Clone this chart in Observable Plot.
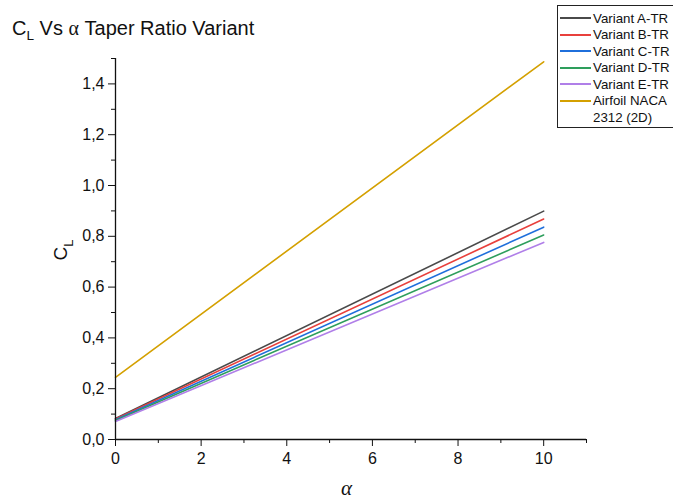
<!DOCTYPE html>
<html>
<head>
<meta charset="utf-8">
<script src="https://cdn.jsdelivr.net/npm/d3@7"></script>
<script src="https://cdn.jsdelivr.net/npm/@observablehq/plot@0.6"></script>
<style>
  body { margin: 0; background: #fff; font-family: "Liberation Sans", Arial, sans-serif; }
  #wrap { position: relative; width: 673px; height: 501px; }
  #chart { position: absolute; left: 0; top: 0; }
  .title { position: absolute; left: 12px; top: 17px; font-size: 20px; color: #111; white-space: nowrap; }
  .title sub, .ylab sub { font-size: 0.68em; vertical-align: -0.4em; }
  .greek { font-family: "Liberation Serif", "DejaVu Serif", serif; }
  .xlab { position: absolute; left: 341px; top: 476px; font-size: 21px; color: #111; font-style: italic; }
  .ylab { position: absolute; left: 63px; top: 250px; font-size: 19px; color: #111; transform: translate(-50%, -50%) rotate(-90deg); white-space: nowrap; }
  .legend { position: absolute; left: 557px; top: 5px; width: 120px; height: 123px; border: 1px solid #222; box-sizing: border-box; background: #fff; font-size: 13.3px; color: #111; }
  .legend .row { position: absolute; left: 0; height: 16px; display: flex; align-items: center; white-space: nowrap; }
  .legend .sw { width: 31px; height: 2px; margin-left: 2px; margin-right: 2px; }
</style>
</head>
<body>
<div id="wrap">
  <div id="chart"></div>
  <div class="title">C<sub>L</sub> Vs <span class="greek">&alpha;</span> Taper Ratio Variant</div>
  <div class="xlab greek">&alpha;</div>
  <div class="ylab">C<sub>L</sub></div>
  <div class="legend" id="legend"></div>
</div>
<script>
// Angle of attack (deg) at the ends of each straight CL curve
const alpha = [0, 10];

// Lift coefficient for each taper-ratio variant and the 2D airfoil
const seriesNames = ["Variant A-TR", "Variant B-TR", "Variant C-TR", "Variant D-TR", "Variant E-TR", "Airfoil NACA 2312 (2D)"];
const clVariantA = [0.083, 0.899];
const clVariantB = [0.081, 0.868];
const clVariantC = [0.078, 0.836];
const clVariantD = [0.075, 0.805];
const clVariantE = [0.071, 0.776];
const clNaca2312 = [0.245, 1.487];
const seriesColors = ["#4a4a4a", "#e8403c", "#1f6fdb", "#2e9e5c", "#b07fe8", "#d4a000"];

// Axis ticks
const xMajor = [0, 2, 4, 6, 8, 10];
const xMinor = [1, 3, 5, 7, 9, 11];
const yMajor = [0, 0.2, 0.4, 0.6, 0.8, 1.0, 1.2, 1.4];
const yMinor = [0.1, 0.3, 0.5, 0.7, 0.9, 1.1, 1.3, 1.5];

const allSeries = [clVariantA, clVariantB, clVariantC, clVariantD, clVariantE, clNaca2312];
const rows = [];
allSeries.forEach((vals, i) => {
  vals.forEach((v, j) => rows.push({series: seriesNames[i], alpha: alpha[j], cl: v}));
});

const comma = d => d.toFixed(1).replace(".", ",");
const font = {fontFamily: "'Liberation Sans', Arial, sans-serif", fontSize: "16px", color: "#111"};

const chart = Plot.plot({
  width: 673,
  height: 501,
  marginLeft: 115,
  marginRight: 87,
  marginTop: 58,
  marginBottom: 62,
  style: font,
  x: {domain: [0, 11]},
  y: {domain: [0, 1.5]},
  color: {domain: seriesNames, range: seriesColors},
  marks: [
    Plot.line(rows, {x: "alpha", y: "cl", z: "series", stroke: "series", strokeWidth: 1.6}),
    Plot.axisX(xMajor, {tickSize: 7, tickPadding: 6, tickFormat: d => d, label: null, stroke: "#111"}),
    Plot.axisX(xMinor, {tickSize: 4, tickFormat: () => "", label: null, stroke: "#111"}),
    Plot.axisY(yMajor, {tickSize: 7, tickPadding: 4, tickFormat: comma, label: null, stroke: "#111"}),
    Plot.axisY(yMinor, {tickSize: 4, tickFormat: () => "", label: null, stroke: "#111"}),
    Plot.ruleY([0], {x1: 0, x2: 11, stroke: "#111", strokeWidth: 1.3}),
    Plot.ruleX([0], {y1: 0, y2: 1.5, stroke: "#111", strokeWidth: 1.3})
  ]
});
document.getElementById("chart").appendChild(chart);

// Legend entries
const legend = document.getElementById("legend");
const legendLines = ["Variant A-TR", "Variant B-TR", "Variant C-TR", "Variant D-TR", "Variant E-TR", "Airfoil NACA", "2312 (2D)"];
legendLines.forEach((label, i) => {
  const row = document.createElement("div");
  row.className = "row";
  row.style.top = (4 + i * 16.5) + "px";
  const sw = document.createElement("div");
  sw.className = "sw";
  if (i < 6) sw.style.background = seriesColors[i];
  row.appendChild(sw);
  const t = document.createElement("span");
  t.textContent = label;
  row.appendChild(t);
  legend.appendChild(row);
});
</script>
</body>
</html>
